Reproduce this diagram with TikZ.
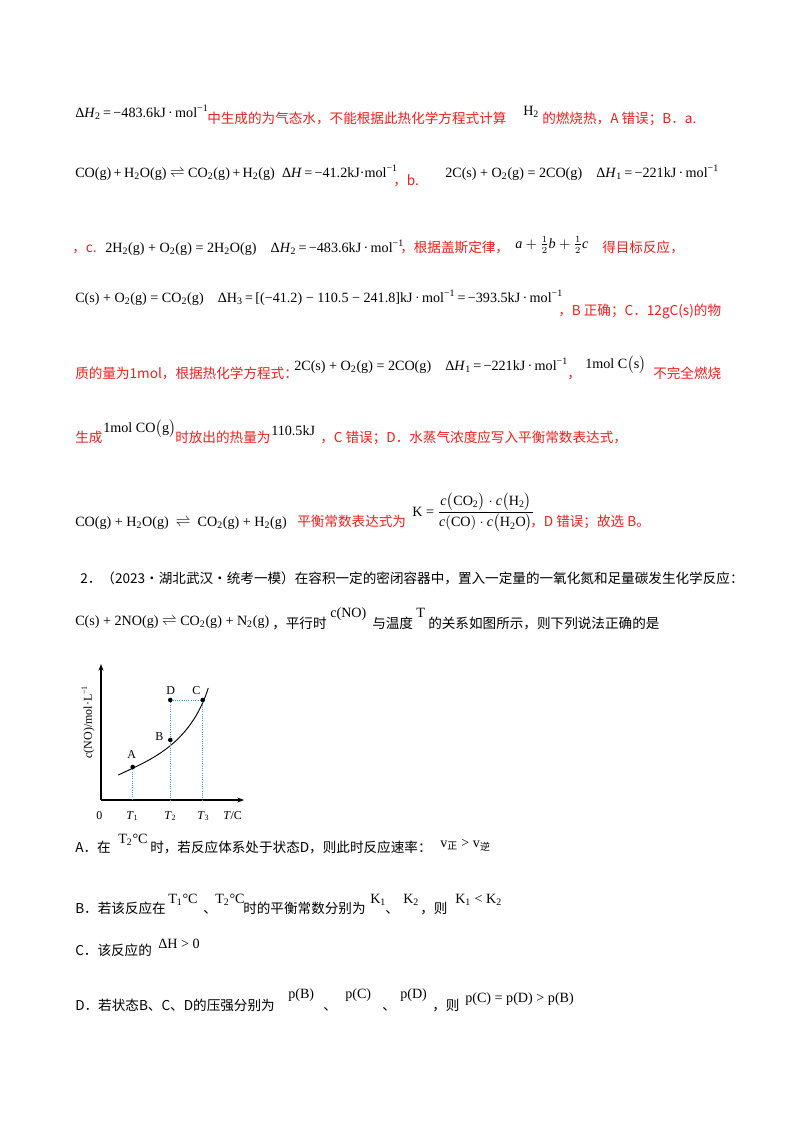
\documentclass[tikz,border=0pt]{standalone}
\usepackage{amsmath}
\usepackage{fontspec}
\setmainfont{Liberation Serif}
\newfontfamily\cjk{Noto Sans CJK SC}
\definecolor{rr}{RGB}{240,30,30}
\definecolor{db}{RGB}{60,160,220}
\usetikzlibrary{arrows.meta}
\newcommand\ssub[1]{\textsubscript{#1}}
\newcommand\ssup[1]{\textsuperscript{#1}}
\newcommand\zh[1]{{\cjk #1}}
\newcommand\eqm{$\rightleftharpoons$}
\newcommand\kjm{kJ\,·\,mol\ssup{−1}}
\begin{document}
\begin{tikzpicture}[x=0.75pt,y=-0.75pt,
  tx/.style={anchor=base west,inner sep=0,font=\fontsize{10.6}{12}\selectfont},
  rtx/.style={tx,text=rr,font=\fontsize{10.2}{12}\selectfont\cjk},
  ztx/.style={tx,font=\fontsize{10.2}{12}\selectfont\cjk},
  gtx/.style={tx,font=\small},
  ax/.style={line width=0.8pt,-{Stealth[length=5pt]}},
  dl/.style={db,densely dotted,line width=0.7pt}]
\useasboundingbox (0,0) rectangle (800,1132);
% line 1
\node[tx] (l1a) at (75,117) {Δ\textit{H}\ssub{2}\,=\,−483.6\kjm};
\node[rtx] (l1b) at (207,123) {中生成的为气态水，不能根据此热化学方程式计算};
\node[tx] (l1c) at (523,115) {H\ssub{2}};
\node[rtx] (l1d) at (542,123) {的燃烧热，A 错误；B．a.};
% line 2
\node[tx] (l2a) at (75,177) {CO(g)\,+\,H\ssub{2}O(g) \eqm{} CO\ssub{2}(g)\,+\,H\ssub{2}(g)\enspace Δ\textit{H}\,=\,−41.2kJ·mol\ssup{−1}};
\node[rtx] (l2b) at (393,185) {，b.};
\node[tx] (l2c) at (445,177) {2C(s) + O\ssub{2}(g) = 2CO(g)\quad Δ\textit{H}\ssub{1}\,=\,−221\kjm};
% line 3
\node[rtx] (l3a) at (72,252) {，c.};
\node[tx] (l3b) at (105,252) {2H\ssub{2}(g) + O\ssub{2}(g) = 2H\ssub{2}O(g)\quad Δ\textit{H}\ssub{2}\,=\,−483.6\kjm};
\node[rtx] (l3c) at (400,252) {，根据盖斯定律，};
\node[tx] (l3d) at (515,248) {$\mathit{a}+\tfrac{1}{2}\mathit{b}+\tfrac{1}{2}\mathit{c}$};
\node[rtx] (l3e) at (602,252) {得目标反应，};
% line 4
\node[tx] (l4a) at (75,302) {C(s) + O\ssub{2}(g) = CO\ssub{2}(g)\quad ΔH\ssub{3}\,=\,[(−41.2) − 110.5 − 241.8]\kjm\,=\,−393.5\kjm};
\node[rtx] (l4b) at (558,315) {，B 正确；C．12gC(s)的物};
% line 5
\node[rtx] (l5a) at (75,378) {质的量为1mol，根据热化学方程式：};
\node[tx] (l5b) at (294,370) {2C(s) + O\ssub{2}(g) = 2CO(g)\quad Δ\textit{H}\ssub{1}\,=\,−221\kjm};
\node[rtx] (l5c) at (567,378) {，};
\node[tx] (l5d) at (585,368) {1mol C$\bigl($s$\bigr)$};
\node[rtx] (l5e) at (653,378) {不完全燃烧};
% line 6
\node[rtx] (l6a) at (75,442) {生成};
\node[tx] (l6b) at (103,432) {1mol CO$\bigl($g$\bigr)$};
\node[rtx] (l6c) at (175,442) {时放出的热量为};
\node[tx] (l6d) at (271,435) {110.5kJ};
\node[rtx] (l6e) at (320,442) {，C 错误；D．水蒸气浓度应写入平衡常数表达式，};
% line 7
\node[tx] (l7a) at (75,526) {CO(g) + H\ssub{2}O(g)\enspace\eqm\enspace CO\ssub{2}(g) + H\ssub{2}(g)};
\node[rtx] (l7b) at (297,526) {平衡常数表达式为};
\node[tx] (l7c) at (412,516) {K = $\dfrac{\mathit{c}\bigl(\mathrm{CO_2}\bigr)\cdot\mathit{c}\bigl(\mathrm{H_2}\bigr)}{\mathit{c}(\mathrm{CO})\cdot\mathit{c}\bigl(\mathrm{H_2O}\bigr)}$};
\node[rtx] (l7d) at (530,526) {，D 错误；故选 B。};
% question 2
\node[ztx] (q2a) at (80,583) {2．（2023·湖北武汉·统考一模）在容积一定的密闭容器中，置入一定量的一氧化氮和足量碳发生化学反应：};
\node[tx] (q2b) at (75,625) {C(s) + 2NO(g) \eqm{} CO\ssub{2}(g) + N\ssub{2}(g)};
\node[ztx] (q2c) at (272,628) {，平行时};
\node[tx] (q2d) at (330,617) {c(NO)};
\node[ztx] (q2e) at (372,628) {与温度};
\node[tx] (q2f) at (416,617) {T};
\node[ztx] (q2g) at (428,628) {的关系如图所示，则下列说法正确的是};
% graph
\coordinate (O) at (101,800);
\coordinate (Ytop) at (101,664);
\coordinate (Xend) at (244,800);
\draw[ax] (O) -- (Ytop);
\draw[ax] (O) -- (Xend);
\coordinate (A) at (132.7,767);
\coordinate (B) at (170.3,740);
\coordinate (C) at (202.7,700);
\coordinate (D) at (170.3,700);
\coordinate (T1) at (132.7,800);
\coordinate (T2) at (170.3,800);
\coordinate (T3) at (202.7,800);
\draw[line width=0.7pt] (118.3,775) .. controls (150,760) and (190,745) .. (208.3,688);
\draw[dl] (A) -- (T1);
\draw[dl] (D) -- (T2);
\draw[dl] (C) -- (T3);
\draw[dl] (D) -- (C);
\foreach \p in {A,B,C,D} \fill (\p) circle (2.3);
\node[gtx] (la) at (127,758) {A};
\node[gtx] (lb) at (155,740) {B};
\node[gtx] (ld) at (166,694) {D};
\node[gtx] (lc) at (192,694) {C};
\node[gtx] (l0) at (96,819) {0};
\node[gtx] (lt1) at (126,819) {\textit{T}\ssub{1}};
\node[gtx] (lt2) at (164,819) {\textit{T}\ssub{2}};
\node[gtx] (lt3) at (197,819) {\textit{T}\ssub{3}};
\node[gtx] (ltc) at (223,819) {\textit{T}/C};
\node[inner sep=0,rotate=90,font=\small] (ly) at (88,722) {\textit{c}(NO)/mol·L\ssup{−1}};
% options
\node[ztx] (oa1) at (75,852) {A．在};
\node[tx] (oa2) at (118,843) {T\ssub{2}°C};
\node[ztx] (oa3) at (150,852) {时，若反应体系处于状态D，则此时反应速率：};
\node[tx] (oa4) at (440,847) {v\ssub{\zh{正}} > v\ssub{\zh{逆}}};
\node[ztx] (ob1) at (75,913) {B．若该反应在};
\node[tx] (ob2) at (168,903) {T\ssub{1}°C};
\node[ztx] (ob3) at (203,913) {、};
\node[tx] (ob4) at (215,903) {T\ssub{2}°C};
\node[ztx] (ob5) at (243,913) {时的平衡常数分别为};
\node[tx] (ob6) at (370,903) {K\ssub{1}};
\node[ztx] (ob7) at (385,913) {、};
\node[tx] (ob8) at (403,903) {K\ssub{2}};
\node[ztx] (ob9) at (420,913) {，则};
\node[tx] (ob10) at (455,903) {K\ssub{1} < K\ssub{2}};
\node[ztx] (oc1) at (75,955) {C．该反应的};
\node[tx] (oc2) at (158,948) {ΔH > 0};
\node[ztx] (od1) at (75,1010) {D．若状态B、C、D的压强分别为};
\node[tx] (od2) at (288,998) {p(B)};
\node[ztx] (od3) at (323,1010) {、};
\node[tx] (od4) at (345,998) {p(C)};
\node[ztx] (od5) at (382,1010) {、};
\node[tx] (od6) at (400,998) {p(D)};
\node[ztx] (od7) at (432,1010) {，则};
\node[tx] (od8) at (465,1002) {p(C) = p(D) > p(B)};
\end{tikzpicture}
\end{document}
